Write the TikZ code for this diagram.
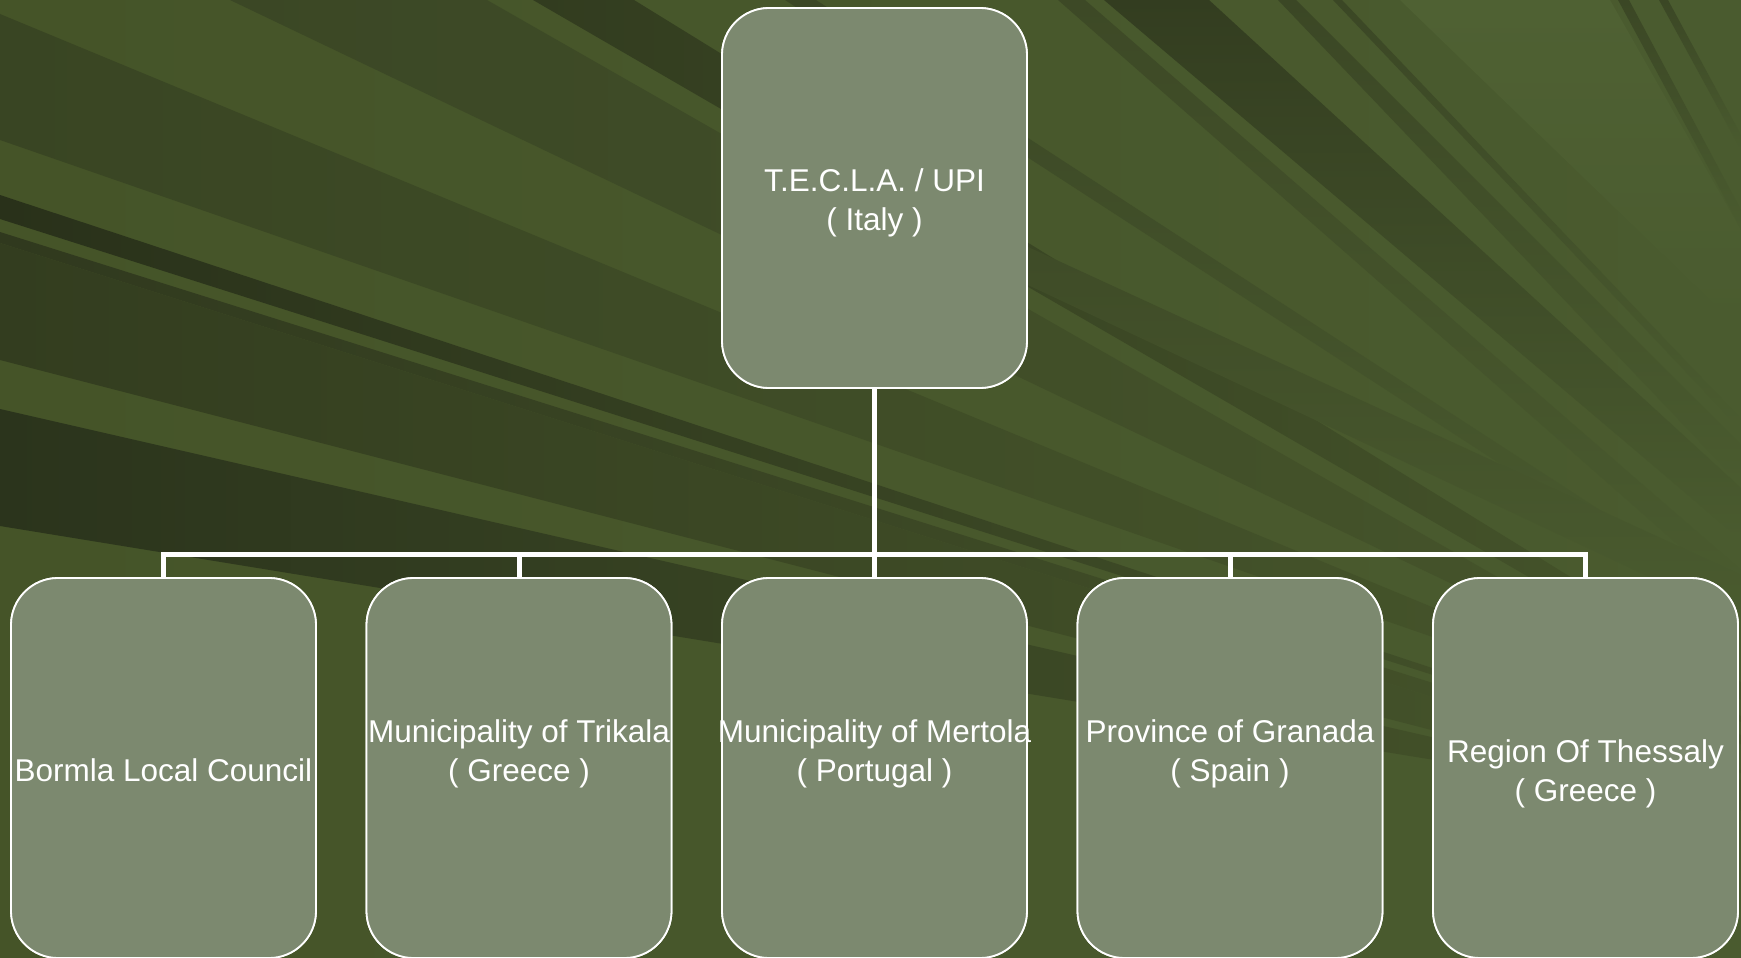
\documentclass[tikz,border=0pt]{standalone}
\usepackage{fontspec}
\setmainfont{Liberation Sans}
\definecolor{baseL}{RGB}{69,84,40}
\definecolor{baseR}{RGB}{74,91,47}
\definecolor{bandA}{RGB}{57,69,35}
\definecolor{bandB}{RGB}{41,49,26}
\definecolor{bandC}{RGB}{48,57,30}
\definecolor{bandD}{RGB}{51,61,31}
\definecolor{bandE}{RGB}{43,52,28}
\definecolor{bandT}{RGB}{59,71,37}
\definecolor{bandU}{RGB}{50,60,31}
\definecolor{fadeA}{RGB}{70,85,43}
\definecolor{rayD}{RGB}{51,61,32}
\definecolor{rayM}{RGB}{61,73,38}
\definecolor{rayT}{RGB}{59,71,37}
\definecolor{rayL}{RGB}{79,97,51}
\definecolor{boxfill}{RGB}{124,137,111}
\newcommand\lbfont{\fontsize{31.5}{38.5}\selectfont}
\tikzset{
  orgbox/.style={draw=white, line width=1.8pt, fill=boxfill, rounded corners=47pt,
    minimum width=305pt, minimum height=380pt, inner sep=0pt},
  lbl/.style={text=white, font=\lbfont, align=center, inner sep=0pt, anchor=base},
  link/.style={draw=white, line width=5pt}
}
\begin{document}
\begin{tikzpicture}[x=1pt,y=-1pt]
\useasboundingbox (0,0) rectangle (1741,958);
\begin{scope}
\clip (0,0) rectangle (1741,958);
\shade[left color=baseL, right color=baseR] (0,0) rectangle (1741,958);
% bands from the left edge
\shade[left color=bandA, right color=fadeA] (0,14) -- (1741,735) -- (1741,744) -- (0,140) -- cycle;
\shade[left color=bandB, right color=fadeA] (0,195) -- (1741,770) -- (1741,773) -- (0,219) -- cycle;
\shade[left color=bandC, right color=fadeA] (0,232) -- (1741,780) -- (1741,795) -- (0,243) -- cycle;
\shade[left color=bandD, right color=fadeA] (0,243) -- (1741,795) -- (1741,810) -- (0,360) -- cycle;
\shade[left color=bandE, right color=fadeA] (0,409) -- (1741,808) -- (1741,810) -- (0,526) -- cycle;
% bands from the top edge, left part
\shade[left color=bandT, right color=fadeA] (230,0) -- (487,0) -- (1741,716) -- (1741,722) -- cycle;
\shade[left color=bandU, right color=fadeA] (533,0) -- (634,0) -- (1741,682) -- (1741,700) -- cycle;
% rays on the right
\shade[top color=rayL, bottom color=baseR] (1400,0) -- (1610,0) -- (1741,230) -- (1741,330) -- cycle;
\shade[top color=rayM, bottom color=baseR] (1058,0) -- (1085,0) -- (1741,570) -- (1741,600) -- cycle;
\shade[top color=rayD, bottom color=baseR] (1104,0) -- (1209,0) -- (1741,488) -- (1741,540) -- cycle;
\shade[top color=rayT, bottom color=baseR] (1278,0) -- (1296,0) -- (1741,445) -- (1741,485) -- cycle;
\shade[top color=rayT, bottom color=baseR] (1333,0) -- (1342,0) -- (1741,419) -- (1741,430) -- cycle;
\shade[top color=rayT, bottom color=baseR] (1618,0) -- (1629,0) -- (1741,210) -- (1741,228) -- cycle;
\shade[top color=rayT, bottom color=baseR] (1659,0) -- (1668,0) -- (1741,135) -- (1741,150) -- cycle;
\shade[top color=rayT, bottom color=baseR] (785,0) -- (816,0) -- (1741,602) -- (1741,620) -- cycle;
\shade[top color=rayM, bottom color=baseR] (900,188) -- (900,225) -- (1741,620) -- (1741,575) -- cycle;
\end{scope}

\node[orgbox] (top) at (874.5,198) {};
\coordinate (bus) at (874.5,554);
\node[orgbox] (b1) at (163.5,768) {};
\node[orgbox] (b2) at (519,768) {};
\node[orgbox] (b3) at (874.5,768) {};
\node[orgbox] (b4) at (1230,768) {};
\node[orgbox] (b5) at (1585.5,768) {};

\draw[link] (top.south) -- (bus);
\draw[link] (bus) -| (b1.north);
\draw[link] (bus) -| (b2.north);
\draw[link] (bus) -- (b3.north);
\draw[link] (bus) -| (b4.north);
\draw[link] (bus) -| (b5.north);

\node[orgbox] at (top) {};
\foreach \n in {b1,b2,b3,b4,b5} \node[orgbox] at (\n) {};

\node[lbl] (t0) at (874.5,230) {T.E.C.L.A. / UPI\\( Italy )};
\node[lbl] (t1) at (163.5,781) {Bormla Local Council};
\node[lbl] (t2) at (519,781) {Municipality of Trikala\\( Greece )};
\node[lbl] (t3) at (874.5,781) {Municipality of Mertola\\( Portugal )};
\node[lbl] (t4) at (1230,781) {Province of Granada\\( Spain )};
\node[lbl] (t5) at (1585.5,801) {Region Of Thessaly\\( Greece )};
\end{tikzpicture}
\end{document}
